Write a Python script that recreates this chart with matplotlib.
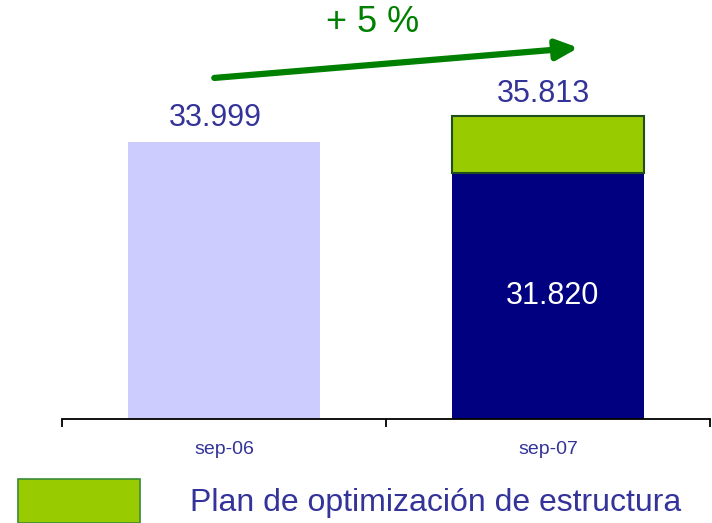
import matplotlib
matplotlib.use("Agg")
import matplotlib.pyplot as plt
from matplotlib.patches import Rectangle

# data
categories = ["sep-06", "sep-07"]
base_values = [33999, 31820]
plan_values = [0, 35813 - 31820]
total_labels = ["33.999", "35.813"]
inner_label = "31.820"
growth_label = "+ 5 %"
legend_label = "Plan de optimización de estructura"

light = "#ccccff"
navy = "#000080"
lime = "#99cc00"
txt = "#333399"
arrow_green = "#008000"

plt.rcParams['font.family'] = ['Liberation Sans', 'DejaVu Sans']

fig = plt.figure(figsize=(7.12, 5.23), dpi=100)
ax = fig.add_axes([62 / 712, 104 / 523, 648 / 712, 419 / 523])

x = list(range(len(categories)))
ax.bar(x, base_values, width=0.593, color=[light, navy], bottom=0)
ax.bar(x[1], plan_values[1], width=0.593, bottom=base_values[1],
       color=lime, edgecolor="#1e4d1e", linewidth=1.5)

ax.set_xlim(-0.5, 1.5)
ax.set_ylim(14652, 43885)

# labels above bars
tops = [base_values[i] + plan_values[i] for i in x]
offs = [(-6, 17), (-3, 15.5)]
for i in x:
    ax.annotate(total_labels[i], (x[i], tops[i]), xytext=offs[i],
                textcoords="offset points", ha="center", va="center",
                fontsize=22, color=txt)
ax.text(1.015, (14652 + base_values[1]) / 2, inner_label, ha="center",
        va="center", fontsize=22, color="white")

# growth arrow
ax.annotate("", xy=(0.797, 0.886), xytext=(0.235, 0.814),
            xycoords="axes fraction", textcoords="axes fraction",
            arrowprops=dict(arrowstyle="-|>,head_length=1.3,head_width=0.6",
                            color=arrow_green, lw=4.5, shrinkA=0, shrinkB=0))
fig.text(373 / 712, 1 - 22 / 523, growth_label, ha="center", va="center",
         fontsize=26, color=arrow_green)

# axes styling
for s in ["left", "top", "right"]:
    ax.spines[s].set_visible(False)
ax.spines["bottom"].set_linewidth(1.3)
ax.set_yticks([])
ax.set_xticks([-0.5, 0.5, 1.5])
ax.set_xticklabels([])
ax.tick_params(axis="x", which="major", direction="out", length=6, width=1.3)
ax.set_xticks(x, minor=True)
ax.set_xticklabels(categories, minor=True, fontsize=14, color=txt)
ax.tick_params(axis="x", which="minor", length=0, pad=15.5)

# legend
fig.patches.append(Rectangle((18 / 712, 0), 122 / 712, 44 / 523,
                             transform=fig.transFigure, facecolor=lime,
                             edgecolor="#3a8a3a", linewidth=1.2))
fig.text(190 / 712, 1 - 503 / 523, legend_label, ha="left", va="center",
         fontsize=23, color=txt)

fig.savefig("out.png", dpi=100)
